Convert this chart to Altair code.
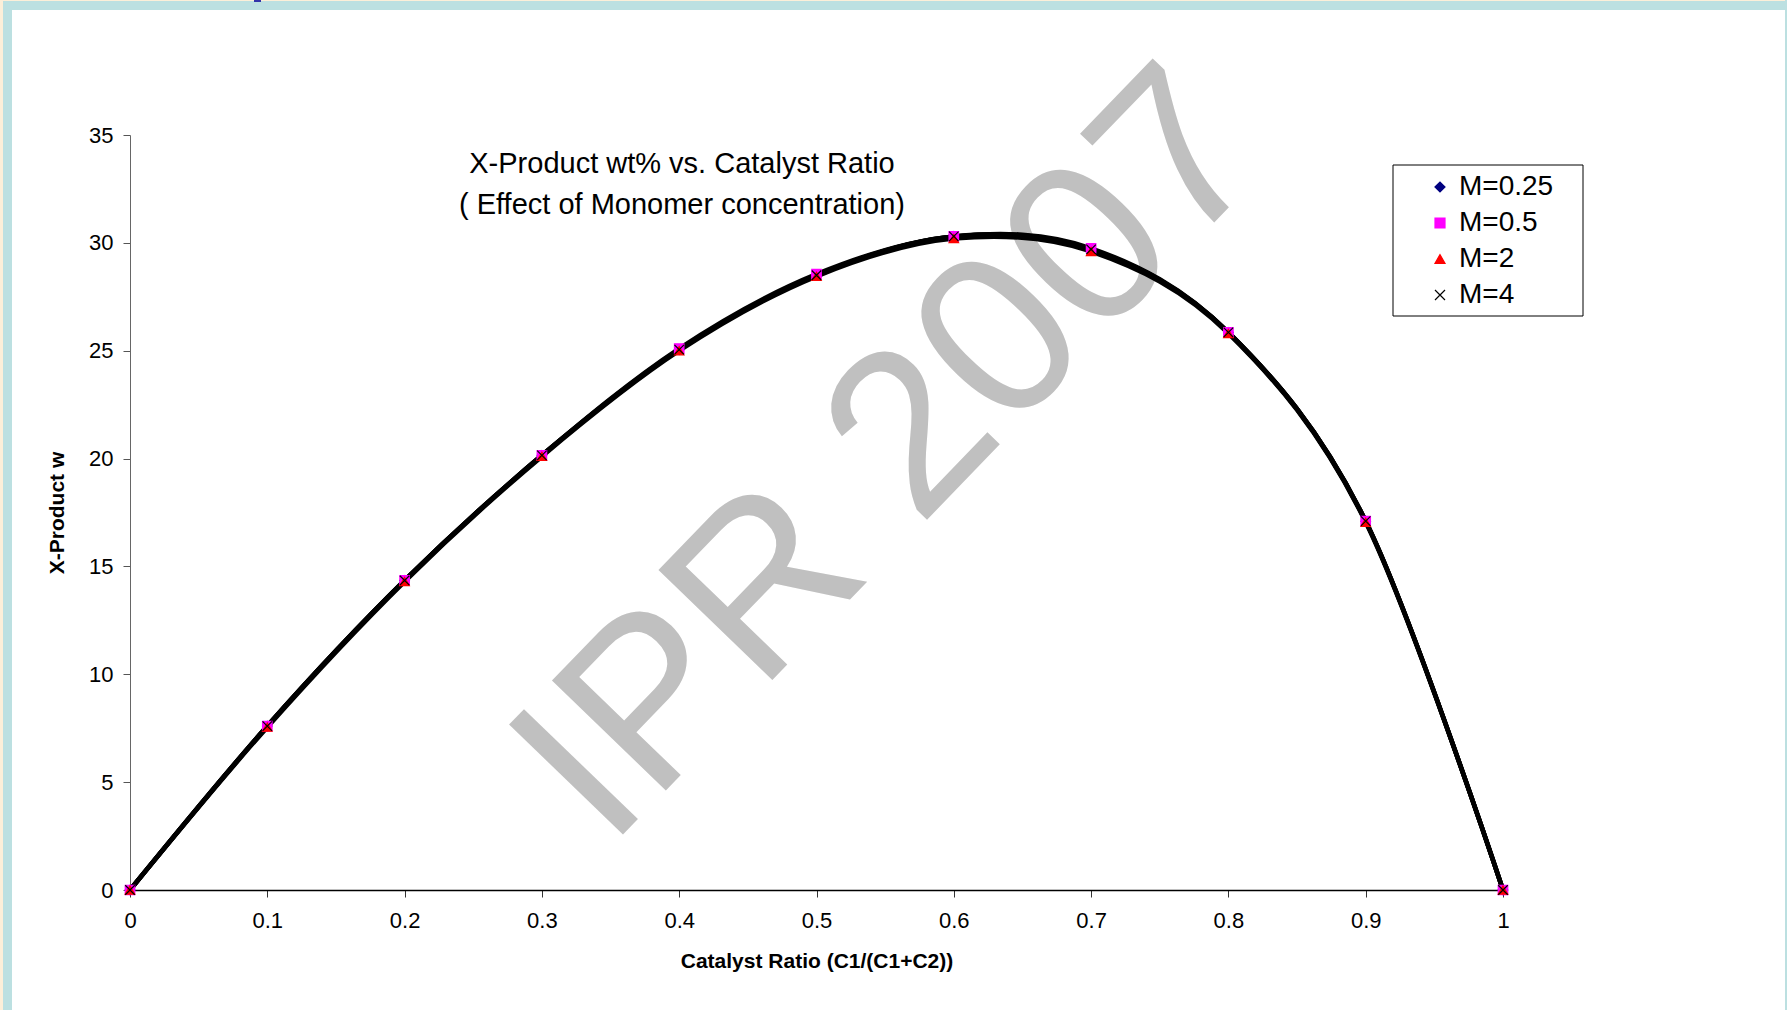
import altair as alt
import pandas as pd

# Catalyst ratio C1/(C1+C2) and X-product wt% for each monomer concentration
RATIO = [0.0, 0.1, 0.2, 0.3, 0.4, 0.5, 0.6, 0.7, 0.8, 0.9, 1.0]
M_025 = [0.0, 7.6, 14.35, 20.15, 25.05, 28.5, 30.3, 29.7, 25.85, 17.1, 0.0]
M_05 = [0.0, 7.6, 14.35, 20.15, 25.1, 28.55, 30.3, 29.75, 25.85, 17.1, 0.0]
M_2 = [0.0, 7.55, 14.3, 20.1, 25.0, 28.45, 30.2, 29.6, 25.8, 17.05, 0.0]
M_4 = [0.0, 7.6, 14.35, 20.15, 25.05, 28.5, 30.3, 29.7, 25.85, 17.1, 0.0]

SERIES = ["M=0.25", "M=0.5", "M=2", "M=4"]
FILLS = ["#000080", "#ff00ff", "#ff0000", "transparent"]
STROKES = ["#000080", "#ff00ff", "#ff0000", "#000000"]
SHAPES = ["diamond", "square", "triangle-up", "M-1,-1L1,1M-1,1L1,-1"]

X_TICKS = [0, 0.1, 0.2, 0.3, 0.4, 0.5, 0.6, 0.7, 0.8, 0.9, 1]
Y_TICKS = [0, 5, 10, 15, 20, 25, 30, 35]

TITLE_LINES = ["X-Product wt% vs.  Catalyst Ratio", "( Effect of Monomer concentration)"]
X_TITLE = "Catalyst Ratio (C1/(C1+C2))"
Y_TITLE = "X-Product w"
WATERMARK = "IPR 2007"

FONT = "Liberation Sans"

rows = []
for name, vals in zip(SERIES, [M_025, M_05, M_2, M_4]):
    for r, v in zip(RATIO, vals):
        rows.append({"ratio": r, "wt": v, "series": name})
df = pd.DataFrame(rows)
one = pd.DataFrame({"k": [0]})

W, H = 1373, 755
PAD = {"left": 130, "top": 135, "right": 284, "bottom": 120}

x_enc = alt.X(
    "ratio:Q",
    scale=alt.Scale(domain=[0, 1], nice=False, zero=False),
    axis=alt.Axis(
        values=X_TICKS, format="~g", grid=False, tickSize=7, tickColor="#333333",
        domainColor="#000000", domainWidth=1.3, labelFont=FONT, labelFontSize=22,
        labelColor="#000000", labelPadding=13, labelFlush=False,
        titleFont=FONT, titleFontSize=21, titleFontWeight="bold", titleColor="#000000",
        titleY=77, titleBaseline="alphabetic",
    ),
    title=X_TITLE,
)
y_enc = alt.Y(
    "wt:Q",
    scale=alt.Scale(domain=[0, 35], nice=False),
    axis=alt.Axis(
        values=Y_TICKS, format="d", grid=False, tickSize=7, tickColor="#555555",
        domainColor="#666666", labelFont=FONT, labelFontSize=22, labelColor="#000000",
        labelPadding=10, labelFlush=False,
        titleFont=FONT, titleFontSize=21, titleFontWeight="bold", titleColor="#000000",
        titleX=-67, titleY=H / 2, titleAlign="center", titleBaseline="alphabetic",
        titleAngle=270,
    ),
    title=Y_TITLE,
)

# page frame: cream edge and light blue border around the white sheet
frame = [
    ("#fcefd9", -130, -127, -135, H + PAD["bottom"]),
    ("#bce0e1", -127, -118, -135, H + PAD["bottom"]),
    ("#fcefd9", -130, W + PAD["right"], -135, -134),
    ("#bce0e1", -127, W + PAD["right"], -134, -125),
    ("#bce0e1", W + PAD["right"] - 2, W + PAD["right"], -135, H + PAD["bottom"]),
    ("#3333aa", 124, 131, -135, -133),
]
frame_layers = [
    alt.Chart(one).mark_rect(color=c).encode(
        x=alt.value(x0), x2=alt.value(x1), y=alt.value(y0), y2=alt.value(y1)
    )
    for c, x0, x1, y0, y1 in frame
]

legend_box = alt.Chart(one).mark_rect(
    fill="white", stroke="#000000", strokeWidth=1
).encode(x=alt.value(1263), x2=alt.value(1453), y=alt.value(30), y2=alt.value(181))

watermark = alt.Chart(one).mark_text(
    text=WATERMARK, font=FONT, fontSize=230, color="#c0c0c0", angle=314,
    align="center", baseline="alphabetic",
).encode(x=alt.datum(0.591), y=alt.datum(17.85))

lines = alt.Chart(df).mark_line(
    interpolate="cardinal", color="#000000", strokeWidth=4.5
).encode(x=x_enc, y=y_enc, detail="series:N")

leg = alt.Legend(
    orient="none", legendX=1263, legendY=30, padding=8, labelFont=FONT,
    labelFontSize=28, labelColor="#000000", rowPadding=8, symbolOffset=25,
    labelOffset=5, symbolSize=100, symbolStrokeWidth=1.2, title=None,
)

points = alt.Chart(df).mark_point(
    filled=True, size=90, strokeWidth=1.2, opacity=1
).encode(
    x=x_enc,
    y=y_enc,
    fill=alt.Fill("series:N", scale=alt.Scale(domain=SERIES, range=FILLS), legend=leg, title=None),
    stroke=alt.Stroke("series:N", scale=alt.Scale(domain=SERIES, range=STROKES), legend=leg, title=None),
    shape=alt.Shape("series:N", scale=alt.Scale(domain=SERIES, range=SHAPES), legend=leg, title=None),
)

title = alt.Chart(one).mark_text(
    text="\n".join(TITLE_LINES), lineBreak="\n", lineHeight=41, font=FONT,
    fontSize=29, color="#000000", align="center", baseline="middle",
).encode(x=alt.value(552), y=alt.value(29))

chart = alt.layer(
    *frame_layers, legend_box, watermark, lines, points, title
).properties(
    width=W, height=H, padding=PAD, autosize=alt.AutoSizeParams(type="none"),
    background="white",
).configure_view(stroke=None)

chart.save("out.html", embed_options={"renderer": "svg", "actions": False})
